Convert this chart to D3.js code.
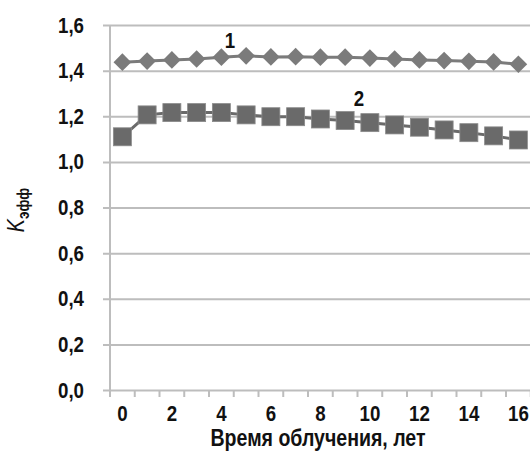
<!DOCTYPE html>
<html>
<head>
<meta charset="utf-8">
<script src="https://cdnjs.cloudflare.com/ajax/libs/d3/7.8.5/d3.min.js"></script>
<style>
  body { margin: 0; background: #fff; }
  text { font-family: "Liberation Sans", Arial, sans-serif; font-weight: bold; fill: #111; }
</style>
</head>
<body>
<script>
var fullWidth = 530;
var fullHeight = 451;

// narrow look of the original font
var sx = 0.85;

// years of irradiation
var years = d3.range(0, 17);
var xTickLabels = [0, 2, 4, 6, 8, 10, 12, 14, 16];
var yTicks = [0, 0.2, 0.4, 0.6, 0.8, 1.0, 1.2, 1.4, 1.6];

// curve 1 (diamonds) and curve 2 (squares)
var series1 = [1.437, 1.442, 1.447, 1.451, 1.459, 1.465, 1.460, 1.461, 1.459, 1.459, 1.455, 1.451, 1.447, 1.444, 1.441, 1.438, 1.428];
var series2 = [1.110, 1.206, 1.216, 1.216, 1.216, 1.206, 1.198, 1.198, 1.188, 1.181, 1.172, 1.162, 1.152, 1.140, 1.128, 1.114, 1.096];

var plot = {left: 110, right: 530.75, top: 25, bottom: 390};

var svg = d3.select("body")
            .append("svg")
            .attr("width", fullWidth)
            .attr("height", fullHeight);

var xScale = d3.scaleBand()
               .domain(years)
               .range([plot.left, plot.right]);

var yScale = d3.scaleLinear()
               .domain([0, 1.6])
               .range([plot.bottom, plot.top]);

// horizontal gridlines + y labels
var yAxis = d3.axisLeft(yScale)
              .tickValues(yTicks)
              .tickSizeInner(-(fullWidth - plot.left))
              .tickSizeOuter(0)
              .tickPadding(26)
              .tickFormat(function(d) { return d.toFixed(1).replace(".", ","); });

var gy = svg.append("g")
            .attr("transform", "translate(" + plot.left + ",0)")
            .call(yAxis);
gy.select(".domain").remove();
gy.selectAll(".tick line")
  .attr("x1", -7)
  .attr("stroke", "#bdbdbd")
  .attr("stroke-width", 2);
gy.selectAll(".tick text")
  .attr("x", -26 / sx)
  .attr("transform", "scale(" + sx + ",1)")
  .style("font-size", "22px");

// vertical axis line
svg.append("line")
   .attr("x1", plot.left).attr("x2", plot.left)
   .attr("y1", plot.top).attr("y2", plot.bottom + 7)
   .attr("stroke", "#bdbdbd")
   .attr("stroke-width", 2);

// x tick marks between categories
var boundaries = years.map(function(d) { return xScale(d); }).concat([plot.right]);
svg.selectAll(".xtick")
   .data(boundaries)
   .enter()
   .append("line")
   .attr("class", "xtick")
   .attr("x1", function(d) { return d; })
   .attr("x2", function(d) { return d; })
   .attr("y1", plot.bottom)
   .attr("y2", plot.bottom + 7)
   .attr("stroke", "#bdbdbd")
   .attr("stroke-width", 2);

// x labels
var xAxis = d3.axisBottom(xScale)
              .tickValues(xTickLabels)
              .tickSize(0)
              .tickPadding(15);

var gx = svg.append("g")
            .attr("transform", "translate(0," + plot.bottom + ")")
            .call(xAxis);
gx.select(".domain").remove();
gx.selectAll(".tick text")
  .attr("transform", "scale(" + sx + ",1)")
  .style("font-size", "22px");
svg.selectAll("g").attr("font-family", null).attr("font-size", null);

var cx = function(d, i) { return xScale(years[i]) + xScale.bandwidth() / 2; };

var line = d3.line()
             .x(function(d, i) { return cx(d, i); })
             .y(function(d) { return yScale(d); });

// curve 1
svg.append("path")
   .datum(series1)
   .attr("d", line)
   .attr("fill", "none")
   .attr("stroke", "#7b7b7b")
   .attr("stroke-width", 3);

svg.selectAll(".diamond")
   .data(series1)
   .enter()
   .append("path")
   .attr("class", "diamond")
   .attr("d", d3.symbol().type(d3.symbolDiamond2).size(200))
   .attr("transform", function(d, i) {
       return "translate(" + cx(d, i) + "," + yScale(d) + ")";
   })
   .attr("fill", "#7b7b7b");

// curve 2
svg.append("path")
   .datum(series2)
   .attr("d", line)
   .attr("fill", "none")
   .attr("stroke", "#6a6a6a")
   .attr("stroke-width", 3);

svg.selectAll(".square")
   .data(series2)
   .enter()
   .append("rect")
   .attr("class", "square")
   .attr("x", function(d, i) { return cx(d, i) - 9; })
   .attr("y", function(d) { return yScale(d) - 9; })
   .attr("width", 18)
   .attr("height", 18)
   .attr("fill", "#6a6a6a")
   .attr("stroke", "#8a8a8a")
   .attr("stroke-width", 0.8);

// curve numbers
svg.append("text")
   .attr("transform", "translate(230,48) scale(" + sx + ",1)")
   .style("font-size", "22px")
   .style("text-anchor", "middle")
   .text("1");

svg.append("text")
   .attr("transform", "translate(359,106) scale(" + sx + ",1)")
   .style("font-size", "22px")
   .style("text-anchor", "middle")
   .text("2");

// x axis title
svg.append("text")
   .attr("transform", "translate(318,446) scale(" + sx + ",1)")
   .style("text-anchor", "middle")
   .style("font-size", "23px")
   .text("Время облучения, лет");

// y axis title
var yt = svg.append("text")
            .attr("transform", "translate(24,210) rotate(-90) scale(" + sx + ",1)")
            .style("text-anchor", "middle")
            .style("font-size", "23px");
yt.append("tspan")
  .style("font-style", "italic")
  .style("font-weight", "normal")
  .text("K");
yt.append("tspan")
  .attr("dy", 5)
  .style("font-size", "16px")
  .text("эфф");
</script>
</body>
</html>
